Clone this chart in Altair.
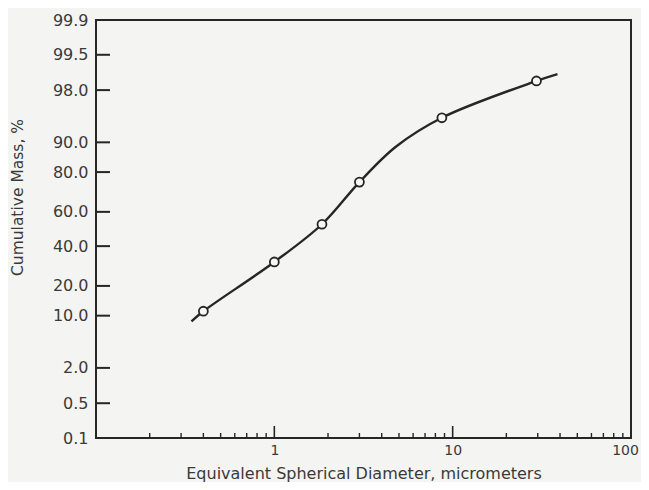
import altair as alt
import pandas as pd
from statistics import NormalDist

nd = NormalDist()

# measured data points (diameter in micrometers, cumulative mass in %)
diam = [0.40, 1.0, 1.85, 3.0, 8.7, 29.5]
mass = [11.2, 31.3, 52.8, 75.6, 95.0, 98.57]

# smooth fitted curve
curve_d = [0.343, 0.40, 1.0, 1.85, 3.0, 4.8, 8.7, 29.5, 38.7]
curve_m = [8.6, 11.2, 31.3, 52.8, 75.6, 88.8, 95.0, 98.57, 98.9]

# tick definitions
y_ticks = [0.1, 0.5, 2.0, 10.0, 20.0, 40.0, 60.0, 80.0, 90.0, 98.0, 99.5, 99.9]
x_labels = [1, 10, 100]
x_major = [1, 10]
x_minor = [0.2, 0.3, 0.4, 0.5, 0.6, 0.7, 0.8, 0.9,
           2, 3, 4, 5, 6, 7, 8, 9,
           20, 30, 40, 50, 60, 70, 80, 90]

W, H = 535, 418
INK = "#262626"
TXT = "#3a3a3a"
FONT = "DejaVu Sans"

pts = pd.DataFrame({"d": diam, "m": mass})
crv = pd.DataFrame({"d": curve_d, "m": curve_m})
yt = pd.DataFrame({"m": y_ticks})
xmaj = pd.DataFrame({"d": x_major})
xmin = pd.DataFrame({"d": x_minor})

zexpr = "quantileNormal(datum.m / 100)"
zvals = [nd.inv_cdf(p / 100) for p in y_ticks]
zdom = [zvals[0], zvals[-1]]

xscale = alt.Scale(type="log", domain=[0.1, 100], nice=False)
yscale = alt.Scale(type="linear", domain=zdom, nice=False, zero=False)

xaxis = alt.Axis(
    values=x_labels, title="Equivalent Spherical Diameter, micrometers",
    grid=False, domain=False, ticks=False, labelPadding=5,
    labelFont=FONT, labelFontSize=14, labelColor=TXT, labelFlush=False,
    labelOffset={"condition": {"test": "datum.value == 100", "value": -6}, "value": 0},
    titleFont=FONT, titleFontSize=16, titleColor=TXT, titleFontWeight="normal",
    titleY=35, titleBaseline="middle",
)
yaxis = alt.Axis(
    values=zvals, labelExpr="format(cumulativeNormal(datum.value) * 100, '.1f')",
    title="Cumulative Mass, %", grid=False, domain=False, ticks=False,
    labelPadding=8, labelFont=FONT, labelFontSize=16, labelColor=TXT,
    labelBaseline="middle", labelFlush=False,
    titleFont=FONT, titleFontSize=15.5, titleColor=TXT, titleFontWeight="normal",
    titleAngle=270, titleX=-79, titleY=177, titleBaseline="middle", titleAlign="center",
)

X = alt.X("d:Q", scale=xscale, axis=xaxis)
Y = alt.Y("z:Q", scale=yscale, axis=yaxis)

line = alt.Chart(crv).transform_calculate(z=zexpr).mark_line(
    color=INK, strokeWidth=2.4, interpolate="catmull-rom"
).encode(x=X, y=Y)

points = alt.Chart(pts).transform_calculate(z=zexpr).mark_point(
    shape="circle", filled=True, fill="#f7f7f7", stroke=INK,
    strokeWidth=1.8, size=80, opacity=1
).encode(x=X, y=Y)

ytick_rules = alt.Chart(yt).transform_calculate(z=zexpr).mark_rule(
    color=INK, strokeWidth=2
).encode(y=Y, x=alt.value(0), x2=alt.value(14))

xmaj_rules = alt.Chart(xmaj).mark_rule(color=INK, strokeWidth=1.6).encode(
    x=X, y=alt.value(H), y2=alt.value(H - 12),
)
xmin_rules = alt.Chart(xmin).mark_rule(color=INK, strokeWidth=1.4).encode(
    x=X, y=alt.value(H), y2=alt.value(H - 5),
)

chart = alt.layer(line, points, ytick_rules, xmaj_rules, xmin_rules).properties(
    width=W, height=H,
    padding={"left": 88, "top": 12, "right": 10, "bottom": 44},
    autosize=alt.AutoSizeParams(type="none"),
    background="#f4f4f2",
).configure_view(stroke=INK, strokeWidth=2)

chart.save("out.html", embed_options={"renderer": "svg", "actions": False})
